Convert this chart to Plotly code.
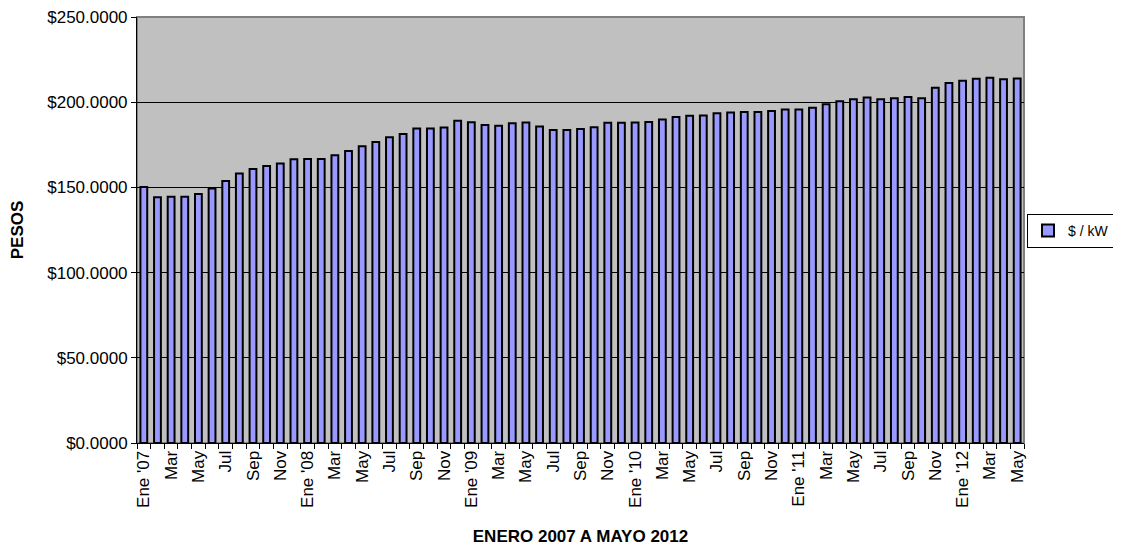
import plotly.graph_objects as go

# Datos: tarifa mensual $ / kW, enero 2007 a mayo 2012
years = [2007, 2008, 2009, 2010, 2011, 2012]
month_names = ["Ene", "Feb", "Mar", "Abr", "May", "Jun",
               "Jul", "Ago", "Sep", "Oct", "Nov", "Dic"]

values_2007 = [150.3, 144.2, 144.5, 144.5, 146.1, 149.4, 153.8, 158.1, 160.8, 162.6, 164.0, 166.5]
values_2008 = [166.7, 166.7, 168.8, 171.3, 174.2, 176.7, 179.4, 181.4, 184.5, 184.5, 185.2, 189.1]
values_2009 = [188.3, 186.6, 186.2, 187.6, 188.1, 185.8, 183.7, 183.7, 184.3, 185.3, 188.0, 188.0]
values_2010 = [188.1, 188.4, 189.9, 191.3, 192.0, 192.2, 193.5, 193.9, 194.2, 194.3, 194.9, 195.7]
values_2011 = [195.7, 196.7, 198.8, 200.6, 201.7, 202.7, 201.7, 202.3, 203.1, 202.3, 208.5, 211.2]
values_2012 = [212.6, 213.7, 214.3, 213.4, 213.9]

values = values_2007 + values_2008 + values_2009 + values_2010 + values_2011 + values_2012

y_ticks = [0, 50, 100, 150, 200, 250]
y_ticktext = [f"${v:.4f}" for v in y_ticks]

# categorias unicas y etiquetas (una de cada dos)
cats = []
labels = []
for i, v in enumerate(values):
    y = years[i // 12]
    m = i % 12
    cats.append(f"{y}-{m + 1:02d}")
    if m == 0:
        labels.append(f"Ene '{str(y)[2:]}")
    elif m % 2 == 0:
        labels.append(month_names[m])
    else:
        labels.append("")

font = "Arial, Liberation Sans, sans-serif"

# la pagina tiene 8px de margen en el body
W, H = 1113, 543

fig = go.Figure()
fig.add_trace(go.Bar(
    x=cats,
    y=values,
    name="$ / kW",
    marker=dict(color="#9999FF", line=dict(color="black", width=2)),
    showlegend=True,
))

fig.update_layout(
    width=W,
    height=H,
    margin=dict(l=129, r=97, t=9, b=108, autoexpand=False),
    paper_bgcolor="white",
    plot_bgcolor="#C0C0C0",
    bargap=0.5,
    font=dict(family=font, size=17, color="black"),
    legend=dict(
        xref="container", yref="container",
        x=1019 / W, y=1 - 223 / H, xanchor="left", yanchor="middle",
        bgcolor="white", bordercolor="black", borderwidth=1,
        font=dict(size=14),
        itemwidth=30,
    ),
    xaxis=dict(
        type="category",
        automargin=False,
        tickmode="array",
        tickvals=cats,
        ticktext=labels,
        tickangle=-90,
        tickson="boundaries",
        ticks="outside",
        ticklen=5,
        tickcolor="black",
        showline=True,
        linecolor="black",
        showgrid=False,
        title=dict(text="<b>ENERO 2007 A MAYO 2012</b>", font=dict(size=17), standoff=23),
    ),
    yaxis=dict(
        automargin=False,
        range=[0, 250],
        tickmode="array",
        tickvals=y_ticks,
        ticktext=y_ticktext,
        ticklabeloverflow="allow",
        ticks="outside",
        ticklen=5,
        tickcolor="black",
        showline=True,
        linecolor="black",
        showgrid=True,
        gridcolor="black",
        gridwidth=1,
        zeroline=False,
        title=dict(text="<b>PESOS</b>", font=dict(size=17), standoff=21),
    ),
)

# borde gris del area de trazado (arriba y derecha)
fig.add_shape(type="rect", xref="paper", yref="paper", x0=0, y0=0, x1=1, y1=1,
              line=dict(color="#808080", width=2), layer="below")

fig.write_html("out.html")
